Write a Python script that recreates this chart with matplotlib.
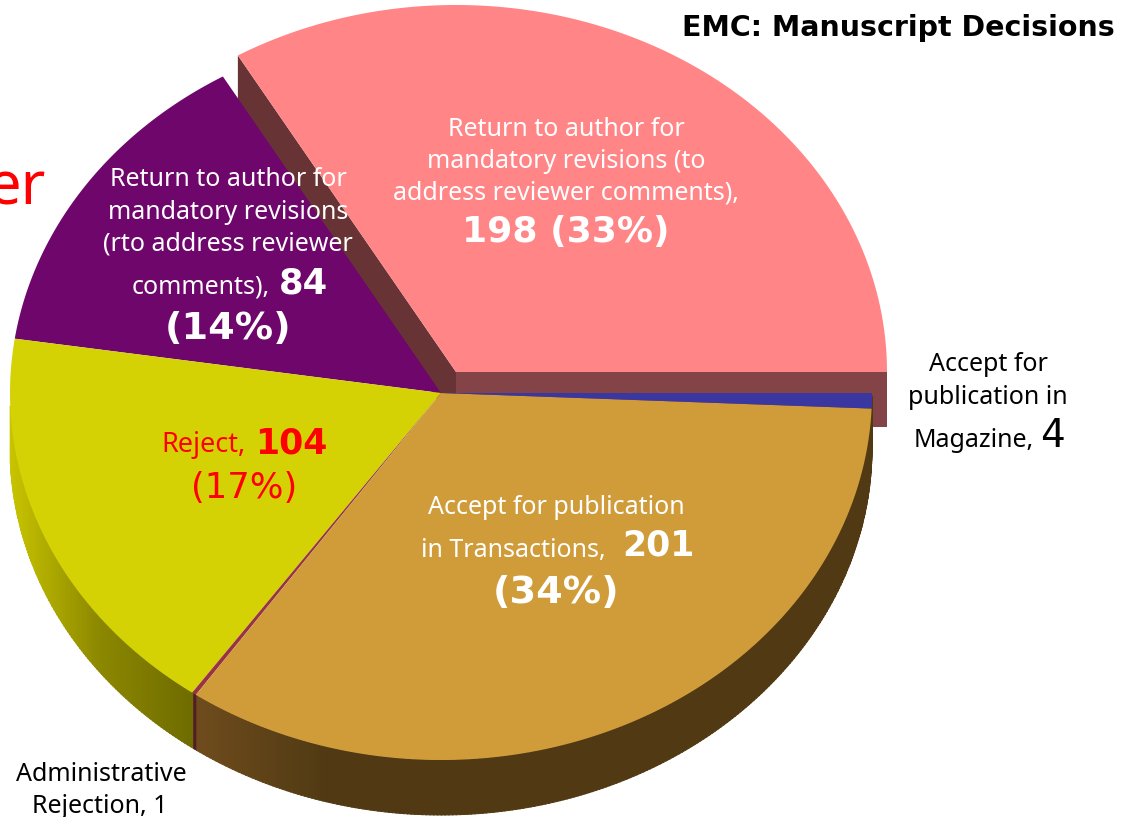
import numpy as np
import matplotlib
matplotlib.use("Agg")
import matplotlib.pyplot as plt

# datos del grafico (en el orden de la tarta, desde 0 grados y en sentido antihorario)
categories = ["Return to author (reviewer comments)", "Return to author (rto)", "Reject",
              "Administrative Rejection", "Accept for Transactions", "Accept for Magazine"]
values = [198, 84, 104, 1, 201, 4]
top_colors = ["#ff8587", "#6e066b", "#d4d204", "#993344", "#cf9c39", "#3b37a0"]

plt.rcParams['font.family'] = ['Noto Sans', 'DejaVu Sans']

W, H = 1130, 817
CX, CY, RX, RY = 441, 393, 431, 367
DEPTH = 55
PINK_SHIFT = (15, -21)


def arco(a0, a1, cx=CX, cy=CY, n=200):
    t = np.radians(np.linspace(a0, a1, n))
    return cx + RX * np.cos(t), cy - RY * np.sin(t)


def mezcla(c0, c1, f):
    c0 = np.array(matplotlib.colors.to_rgb(c0))
    c1 = np.array(matplotlib.colors.to_rgb(c1))
    return c0 + (c1 - c0) * min(max(f, 0), 1)


fig = plt.figure(figsize=(W / 100, H / 100), dpi=100)
ax = fig.add_axes([0, 0, 1, 1])
ax.set_xlim(0, W)
ax.set_ylim(H, 0)
ax.axis("off")

# angulos de cada porcion
fracs = np.array(values) / sum(values) * 360
ends = np.cumsum(fracs)
starts = ends - fracs

# porcion rosa separada, con sus paredes interiores
cx2, cy2 = CX + PINK_SHIFT[0], CY + PINK_SHIFT[1]
x, y = arco(starts[0], ends[0], cx2, cy2)
ax.fill([x[-1], cx2, cx2, x[-1]], [y[-1], cy2, cy2 + DEPTH, y[-1] + DEPTH], color="#683335", lw=0, zorder=1)
ax.fill([cx2, x[0], x[0], cx2], [cy2, y[0], y[0] + DEPTH, cy2 + DEPTH], color="#844347", lw=0, zorder=1)
ax.fill(np.r_[cx2, x], np.r_[cy2, y], color=top_colors[0], lw=0, zorder=2)

# pared exterior de la parte delantera, por tiras (el degradado va segun x)
for a in np.arange(182, 359.5, 0.5):
    x, y = arco(a, a + 0.6, n=4)
    xm = x.mean()
    if a < ends[2]:
        if xm < 100:
            col = mezcla("#c9c500", "#8c8800", (xm - 10) / 90)
        else:
            col = mezcla("#8c8800", "#6f6c00", (xm - 100) / 92)
    elif a < ends[3]:
        col = "#541c28"
    else:
        col = mezcla("#6f4c1d", "#513a13", (xm - 195) / 130)
    ax.fill(np.r_[x, x[::-1]], np.r_[y, y[::-1] + DEPTH], facecolor=col, edgecolor=col, lw=0.7, zorder=3)

# caras superiores de las demas porciones
for i in range(1, len(values)):
    x, y = arco(starts[i], ends[i])
    ax.fill(np.r_[CX, x], np.r_[CY, y], color=top_colors[i], lw=0, zorder=4)


def texto(x, y, s, size=18.0, color="white", bold=False, ha="center", fam=None):
    ax.text(x, y, s, fontsize=size, color=color, ha=ha, va="baseline",
            fontweight="bold" if bold else "normal",
            family=fam if fam else ['Noto Sans', 'DejaVu Sans'], zorder=6)


DV = ['DejaVu Sans']

# titulo y texto cortado
texto(1115, 36, "EMC: Manuscript Decisions", size=20.5, color="black", bold=True, ha="right", fam=DV)
texto(46, 204, "er", size=43, color="#ff0000", ha="right")

# rosa
texto(566, 136, "Return to author for")
texto(566, 168, "mandatory revisions (to")
texto(566, 199, "address reviewer comments),")
texto(566, 242, "198 (33%)", size=26, bold=True, fam=DV)

# morado
texto(228, 186, "Return to author for")
texto(228, 219, "mandatory revisions")
texto(228, 250, "(rto address reviewer")
texto(270, 294, "comments),", ha="right")
texto(279, 294, "84", size=25.5, bold=True, ha="left", fam=DV)
texto(228, 339, "(14%)", size=27.5, bold=True, fam=DV)

# amarillo
texto(246, 452, "Reject,", size=19.5, color="#ff0000", ha="right")
texto(255, 453, "104", size=25, color="#ff0000", bold=True, ha="left", fam=DV)
texto(244, 498, "(17%)", size=25.5, color="#ff0000", fam=DV)

# dorado
texto(556, 514, "Accept for publication")
texto(606, 557, "in Transactions,", ha="right")
texto(622, 556, "201", size=25, bold=True, ha="left", fam=DV)
texto(556, 603, "(34%)", size=27.5, bold=True, fam=DV)

# etiquetas de fuera
texto(988, 371, "Accept for", color="black")
texto(988, 404, "publication in", color="black")
texto(1034, 447, "Magazine,", color="black", ha="right")
texto(1040, 447, "4", size=28, color="black", ha="left", fam=DV)
texto(101, 781, "Administrative", color="black")
texto(100, 813, "Rejection, 1", color="black")

fig.savefig("out.png", dpi=100)
